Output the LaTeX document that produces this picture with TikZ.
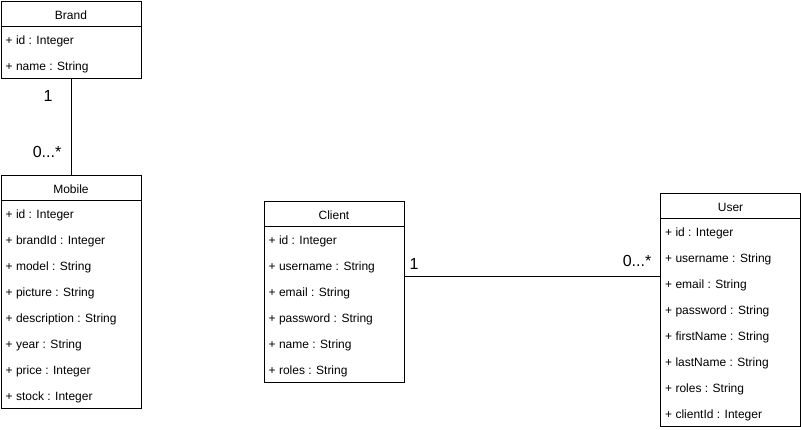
\documentclass[tikz,border=0pt]{standalone}
\usepackage{fontspec}
\setmainfont{Liberation Sans}
\begin{document}
\begin{tikzpicture}[x=1pt,y=1pt,
  box/.style={draw, line width=1pt, minimum width=140pt, inner sep=0pt, anchor=north west},
  ttl/.style={inner sep=0pt, font=\fontsize{12}{14}\selectfont},
  attr/.style={anchor=west, inner sep=0pt, font=\fontsize{12}{14}\selectfont},
  mult/.style={inner sep=0pt, font=\fontsize{16}{18}\selectfont},
  conn/.style={line width=1pt}]
\useasboundingbox (0,0) rectangle (801,-430);

% Brand
\node[box, minimum height=77pt] (brand) at (0.5,-1) {};
\draw[conn] ([yshift=-26pt]brand.north west) -- ([yshift=-26pt]brand.north east);
\node[ttl] (brandT) at ([yshift=-14pt]brand.north) {Brand};
\foreach \t [count=\i] in {+ id : Integer, + name : String}
  \node[attr] (brand\i) at ([xshift=5pt,yshift={-(14+26*\i)*1pt}]brand.north west) {\t};

% Mobile
\node[box, minimum height=233pt] (mobile) at (0.5,-175) {};
\draw[conn] ([yshift=-26pt]mobile.north west) -- ([yshift=-26pt]mobile.north east);
\node[ttl] (mobileT) at ([yshift=-14pt]mobile.north) {Mobile};
\foreach \t [count=\i] in {+ id : Integer, + brandId : Integer, + model : String, + picture : String, + description : String, + year : String, + price : Integer, + stock : Integer}
  \node[attr] (mobile\i) at ([xshift=5pt,yshift={-(14+26*\i)*1pt}]mobile.north west) {\t};

% Client
\node[box, minimum height=181pt] (client) at (263.5,-201) {};
\draw[conn] ([yshift=-26pt]client.north west) -- ([yshift=-26pt]client.north east);
\node[ttl] (clientT) at ([yshift=-14pt]client.north) {Client};
\foreach \t [count=\i] in {+ id : Integer, + username : String, + email : String, + password : String, + name : String, + roles : String}
  \node[attr] (client\i) at ([xshift=5pt,yshift={-(14+26*\i)*1pt}]client.north west) {\t};

% User
\node[box, minimum height=233pt] (user) at (660,-193) {};
\draw[conn] ([yshift=-26pt]user.north west) -- ([yshift=-26pt]user.north east);
\node[ttl] (userT) at ([yshift=-14pt]user.north) {User};
\foreach \t [count=\i] in {+ id : Integer, + username : String, + email : String, + password : String, + firstName : String, + lastName : String, + roles : String, + clientId : Integer}
  \node[attr] (user\i) at ([xshift=5pt,yshift={-(14+26*\i)*1pt}]user.north west) {\t};

% Connectors
\draw[conn] (brand.south) -- (mobile.north);
\draw[conn] (client.east |- 0,-277) -- (user.west |- 0,-277);

% Multiplicities
\node[mult] (m1) at (48,-96) {1};
\node[mult] (m2) at (47,-152) {0...*};
\node[mult] (m3) at (414,-264) {1};
\node[mult] (m4) at (637,-261) {0...*};
\end{tikzpicture}
\end{document}
